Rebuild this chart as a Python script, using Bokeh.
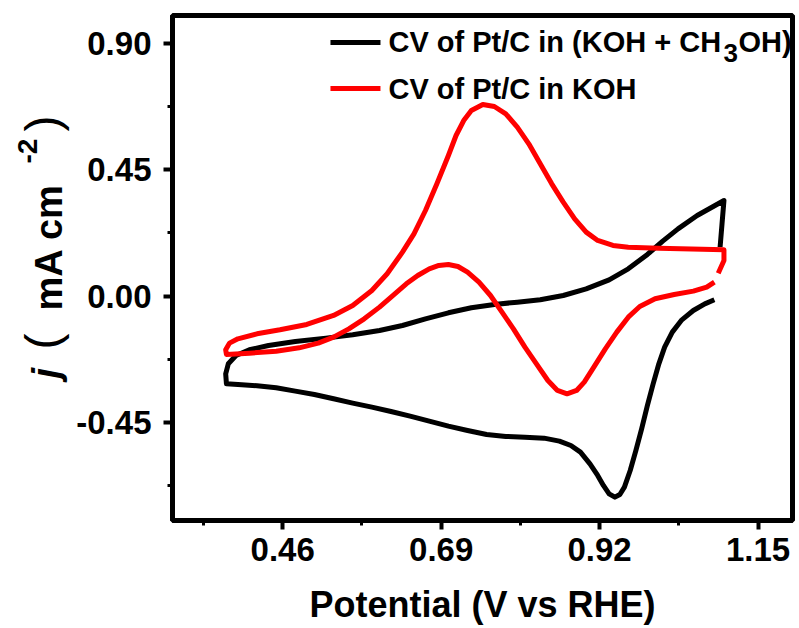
from math import pi

from bokeh.plotting import figure
from bokeh.layouts import row
from bokeh.models import Range1d, FixedTicker, NumeralTickFormatter, Label
from bokeh.core.properties import value
from bokeh.embed import file_html
from bokeh.resources import INLINE

# Cyclic voltammograms of Pt/C, potential in V vs RHE, current density in mA cm^-2.
# Each trace is listed in scan order.
methanol_potential = [
    1.0866, 1.0727, 1.0560, 1.0394, 1.0255, 1.0144, 1.0060, 0.9977, 0.9894, 0.9810,
    0.9727, 0.9644, 0.9560, 0.9494, 0.9422, 0.9338, 0.9255, 0.9172, 0.9060, 0.8922,
    0.8783, 0.8616, 0.8394, 0.8116, 0.7838, 0.7560, 0.7283, 0.7005, 0.6727, 0.6449,
    0.6172, 0.5894, 0.5616, 0.5338, 0.5060, 0.4783, 0.4505, 0.4227, 0.4005, 0.3783,
    0.3772, 0.3810, 0.3922, 0.4116, 0.4394, 0.4783, 0.5227, 0.5616, 0.6005, 0.6338,
    0.6672, 0.7005, 0.7338, 0.7672, 0.8005, 0.8338, 0.8672, 0.9005, 0.9338, 0.9616,
    0.9894, 1.0116, 1.0338, 1.0616, 1.1005, 1.0977, 1.0949,
]
methanol_current = [
    -0.0134, -0.0277, -0.0514, -0.0847, -0.1286, -0.1821, -0.2415, -0.3128, -0.3900, -0.4732,
    -0.5504, -0.6217, -0.6811, -0.7072, -0.7167, -0.7048, -0.6751, -0.6395, -0.5979, -0.5563,
    -0.5326, -0.5171, -0.5064, -0.5029, -0.5005, -0.4934, -0.4791, -0.4637, -0.4458, -0.4280,
    -0.4114, -0.3959, -0.3817, -0.3662, -0.3508, -0.3389, -0.3270, -0.3199, -0.3163, -0.3128,
    -0.2771, -0.2415, -0.2118, -0.1916, -0.1762, -0.1619, -0.1500, -0.1381, -0.1227, -0.1049,
    -0.0811, -0.0597, -0.0419, -0.0300, -0.0217, -0.0134, 0.0020, 0.0258, 0.0579, 0.0971,
    0.1482, 0.1957, 0.2396, 0.2872, 0.3406, 0.2575, 0.1743,
]

koh_potential = [
    1.0866, 1.0755, 1.0560, 1.0283, 1.0005, 0.9783, 0.9616, 0.9449, 0.9283, 0.9116,
    0.8977, 0.8866, 0.8727, 0.8588, 0.8449, 0.8283, 0.8116, 0.7949, 0.7783, 0.7616,
    0.7449, 0.7283, 0.7144, 0.7005, 0.6866, 0.6727, 0.6560, 0.6394, 0.6227, 0.6005,
    0.5783, 0.5560, 0.5338, 0.5116, 0.4838, 0.4505, 0.4116, 0.3783, 0.3772, 0.3827,
    0.3949, 0.4227, 0.4560, 0.4949, 0.5338, 0.5616, 0.5894, 0.6116, 0.6338, 0.6505,
    0.6672, 0.6838, 0.7005, 0.7116, 0.7227, 0.7338, 0.7505, 0.7672, 0.7838, 0.8005,
    0.8172, 0.8338, 0.8505, 0.8672, 0.8838, 0.9005, 0.9172, 0.9394, 0.9616, 1.0060,
    1.1005, 1.1005, 1.0922,
]
koh_current = [
    0.0496, 0.0317, 0.0175, 0.0056, -0.0098, -0.0372, -0.0752, -0.1286, -0.1880, -0.2534,
    -0.3068, -0.3365, -0.3484, -0.3365, -0.3009, -0.2415, -0.1821, -0.1168, -0.0574, 0.0020,
    0.0496, 0.0852, 0.1054, 0.1125, 0.1090, 0.0971, 0.0733, 0.0436, 0.0080, -0.0395,
    -0.0811, -0.1168, -0.1465, -0.1678, -0.1845, -0.1964, -0.2035, -0.2082, -0.1916, -0.1678,
    -0.1524, -0.1346, -0.1203, -0.1013, -0.0692, -0.0336, 0.0199, 0.0793, 0.1565, 0.2218,
    0.3050, 0.4000, 0.5010, 0.5723, 0.6257, 0.6614, 0.6828, 0.6756, 0.6495, 0.6020,
    0.5426, 0.4713, 0.4000, 0.3347, 0.2753, 0.2278, 0.1981, 0.1802, 0.1743, 0.1707,
    0.1648, 0.1268, 0.0816,
]

x_major_ticks = [0.46, 0.69, 0.92, 1.15]
x_minor_ticks = [0.345, 0.575, 0.805, 1.035]
y_major_ticks = [-0.45, 0.00, 0.45, 0.90]
y_minor_ticks = [-0.675, -0.225, 0.225, 0.675]

legend_labels = ["CV of Pt/C in (KOH + CH", "3", "OH)", "CV of Pt/C in KOH"]
x_title = "Potential (V vs RHE)"
y_title_parts = ["j", "(", "mA cm", "-2", ")"]

FONT = "Liberation Sans"
SIDE_W = 72
H = 628
FRAME_TOP = 15
FRAME_BOTTOM = 520

p = figure(
    width=799 - SIDE_W, height=H,
    x_range=Range1d(0.30, 1.20), y_range=Range1d(-0.80, 1.00),
    output_backend="svg", toolbar_location=None,
    min_border_left=172 - SIDE_W, min_border_right=7,
    min_border_top=FRAME_TOP, min_border_bottom=H - FRAME_BOTTOM,
)
p.background_fill_color = "white"
p.border_fill_color = "white"
p.grid.visible = False
p.outline_line_color = "black"
p.outline_line_width = 5

for ax in (p.xaxis[0], p.yaxis[0]):
    ax.axis_line_width = 5
    ax.axis_line_color = "black"
    ax.major_tick_line_width = 4
    ax.minor_tick_line_width = 3
    ax.major_tick_out = 9
    ax.major_tick_in = 0
    ax.minor_tick_out = 5
    ax.minor_tick_in = 0
    ax.major_label_text_font = FONT
    ax.major_label_text_font_style = "bold"
    ax.major_label_text_font_size = "33px"
    ax.major_label_text_color = "black"
    ax.formatter = NumeralTickFormatter(format="0.00")

p.xaxis[0].ticker = FixedTicker(ticks=x_major_ticks, minor_ticks=x_minor_ticks)
p.yaxis[0].ticker = FixedTicker(ticks=y_major_ticks, minor_ticks=y_minor_ticks)
p.xaxis[0].major_label_standoff = 8
p.yaxis[0].major_label_standoff = 12

p.xaxis[0].axis_label = x_title
p.xaxis[0].axis_label_text_font = FONT
p.xaxis[0].axis_label_text_font_style = "bold"
p.xaxis[0].axis_label_text_font_size = "36px"
p.xaxis[0].axis_label_text_color = "black"
p.xaxis[0].axis_label_standoff = 20

# traces: methanol first, KOH drawn on top
p.line(methanol_potential, methanol_current, line_color="black", line_width=5, line_join="round")
p.line(koh_potential, koh_current, line_color="#ff0000", line_width=5, line_join="round")

# legend keys
LEG_X0, LEG_X1, LEG_TEXT_X = 0.5293, 0.6019, 0.6135
LEG_Y = [0.9038, 0.7398]
p.segment(x0=[LEG_X0, LEG_X0], y0=LEG_Y, x1=[LEG_X1, LEG_X1], y1=LEG_Y,
          line_color=["black", "#ff0000"], line_width=5)


def add_label(text, x, y, size, x_offset=0, y_offset=0):
    p.add_layout(Label(
        x=x, y=y, text=text, x_offset=x_offset, y_offset=y_offset,
        text_font=FONT, text_font_style="bold", text_font_size=size,
        text_color="black", text_baseline="middle", text_align="left",
    ))


add_label(legend_labels[0], LEG_TEXT_X, LEG_Y[0], "29px")
add_label(legend_labels[1], LEG_TEXT_X, LEG_Y[0], "26px", x_offset=335, y_offset=-11)
add_label(legend_labels[2], LEG_TEXT_X, LEG_Y[0], "29px", x_offset=350)
add_label(legend_labels[3], LEG_TEXT_X, LEG_Y[1], "29px")

# narrow strip on the left that carries the rotated y-axis title;
# its frame lines up with the main frame, so the y range is given in page pixels
side = figure(
    width=SIDE_W, height=H, x_range=Range1d(0, SIDE_W),
    y_range=Range1d(H - FRAME_BOTTOM, H - FRAME_TOP),
    output_backend="svg", toolbar_location=None,
    x_axis_type=None, y_axis_type=None, min_border=0,
)
side.grid.visible = False
side.outline_line_color = None
side.background_fill_color = "white"
side.border_fill_color = "white"


def side_text(text, x, y, size, style):
    side.text(x=[x], y=[H - y], text=[text], angle=pi / 2,
              text_font=value(FONT), text_font_style=style, text_font_size=size,
              text_color="black", text_baseline="middle", text_align="left")


side_text(y_title_parts[0], 45, 378, "38px", "bold italic")
side_text(y_title_parts[1], 42, 349, "48px", "normal")
side_text(y_title_parts[2], 48, 310, "38px", "bold")
side_text(y_title_parts[3], 27, 163, "28px", "bold")
side_text(y_title_parts[4], 42, 131, "48px", "normal")

layout = row(side, p, spacing=0)
open("out.html", "w").write(file_html(layout, INLINE))
